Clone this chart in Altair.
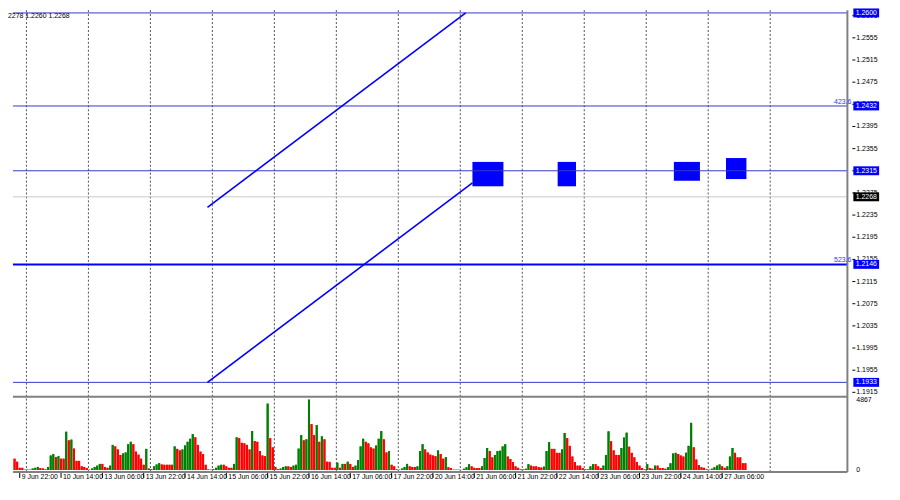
import altair as alt
import pandas as pd

# ---------------- data ----------------
# hourly closes, in pips above 1.2000 (2513 -> 1.2513)
closes_pips = [
    2513, 2515, 2508, 2504, 2492, 2496, 2491, 2494, 2491, 2496,
    2489, 2496, 2498, 2512, 2491, 2484, 2475, 2478, 2456, 2440,
    2386, 2369, 2345, 2327, 2313, 2310, 2317, 2310, 2313, 2315,
    2293, 2279, 2267, 2270, 2279, 2286, 2282, 2261, 2240, 2233,
    2213, 2202, 2209, 2167, 2192, 2171, 2150, 2178, 2174, 2162,
    2143, 2133, 2136, 2141, 2145, 2150, 2152, 2157, 2148, 2171,
    2178, 2181, 2171, 2157, 2110, 2098, 2075, 2067, 2063, 2053,
    2006, 2018, 1997, 1994, 1987, 1980, 1994, 1997, 2002, 2009,
    2023, 2032, 2023, 2006, 2009, 2001, 2032, 2058, 2084, 2089,
    2105, 2087, 2063, 2067, 2058, 2053, 2084, 2110, 2180, 2188,
    2174, 2180, 2171, 2162, 2167, 2150, 2157, 2145, 2148, 2136,
    2096, 2110, 2133, 2150, 2139, 2202, 2258, 2275, 2336, 2383,
    2397, 2371, 2362, 2353, 2357, 2350, 2353, 2345, 2324, 2313,
    2310, 2301, 2287, 2272, 2296, 2310, 2301, 2279, 2267, 2227,
    2223, 2188, 2195, 2202, 2214, 2209, 2216, 2214, 2219, 2223,
    2219, 2226, 2219, 2232, 2237, 2244, 2237, 2248, 2253, 2249,
    2258, 2249, 2261, 2267, 2237, 2249, 2258, 2249, 2240, 2253,
    2258, 2249, 2253, 2261, 2272, 2275, 2282, 2279, 2284, 2275,
    2267, 2272, 2289, 2306, 2296, 2286, 2267, 2275, 2267, 2272,
    2265, 2270, 2272, 2275, 2272, 2277, 2272, 2275, 2261, 2249,
    2258, 2240, 2244, 2237, 2230, 2226, 2209, 2232, 2258, 2261,
    2284, 2293, 2306, 2296, 2279, 2275, 2282, 2270, 2267, 2270,
    2265, 2267, 2261, 2265, 2244, 2249, 2261, 2265, 2258, 2206,
    2180, 2204, 2209, 2226, 2237, 2275, 2286, 2258, 2249, 2232,
    2226, 2249, 2261, 2258, 2263, 2258, 2265, 2249, 2267, 2272,
    2279, 2275, 2277, 2272, 2267, 2270, 2293, 2279, 2289, 2268,
    2282, 2272, 2275, 2261, 2267, 2282, 2279, 2286, 2275, 2282,
    2277, 2272, 2275, 2279, 2272, 2282, 2293, 2319, 2324, 2310,
    2293, 2279, 2275, 2268,
]
first_open_pips = 2510
default_wick = 4
upper_wick = {13: 8, 20: 18, 36: 14, 47: 22, 59: 17, 62: 25, 99: 14, 120: 6,
              135: 31, 163: 8, 164: 12, 183: 16, 212: 7, 236: 7, 262: 23,
              277: 5, 278: 12}
lower_wick = {46: 19, 51: 26, 75: 47, 85: 12, 95: 10, 98: 83, 110: 34, 114: 102,
              141: 12, 181: 21, 190: 16, 206: 50, 230: 9, 256: 26, 265: 18, 283: 7}

volumes = [
    780, 570, 150, 150, 20, 30, 20, 100, 150, 210,
    130, 100, 40, 210, 1000, 1100, 890, 950, 780, 780,
    2645, 2050, 2100, 1480, 630, 630, 250, 210, 130, 20,
    100, 210, 300, 420, 420, 210, 150, 300, 1735, 1630,
    1420, 1040, 1140, 1210, 1780, 1950, 1780, 1270, 1060, 780,
    360, 1460, 100, 60, 250, 380, 470, 380, 360, 360,
    360, 360, 1630, 1460, 1350, 1420, 1690, 1950, 2160, 2480,
    2260, 1735, 1270, 1100, 360, 40, 20, 60, 150, 300,
    360, 360, 250, 150, 150, 420, 2260, 2200, 1880, 1840,
    1735, 1420, 2690, 2000, 1950, 1310, 1000, 950, 4590, 2200,
    1560, 210, 60, 100, 210, 250, 250, 210, 300, 360,
    1480, 2410, 2050, 2120, 4867, 3170, 2410, 3110, 1950, 2330,
    2120, 570, 560, 150, 150, 510, 150, 420, 420, 570,
    420, 210, 300, 680, 1630, 2160, 1950, 1840, 1560, 1480,
    1690, 2160, 2690, 2120, 1210, 1310, 360, 250, 40, 20,
    100, 210, 420, 250, 210, 210, 250, 1310, 1780, 1420,
    1210, 1060, 1000, 950, 1350, 1100, 780, 890, 190, 130,
    20, 20, 20, 10, 85, 190, 400, 250, 150, 130,
    130, 250, 825, 1520, 1310, 870, 1040, 1310, 1330, 1630,
    1780, 930, 760, 550, 250, 150, 40, 40, 85, 400,
    300, 250, 250, 190, 170, 230, 1310, 1925, 1460, 1460,
    1185, 1185, 1420, 2560, 2200, 1670, 930, 550, 300, 300,
    130, 40, 40, 250, 400, 400, 250, 130, 300, 1040,
    2670, 1990, 1350, 1040, 1040, 1520, 2240, 2580, 1610, 1185,
    870, 550, 300, 130, 40, 400, 130, 85, 300, 300,
    130, 130, 85, 190, 465, 1140, 1185, 1100, 1000, 930,
    1185, 1670, 3260, 1565, 720, 340, 190, 150, 40, 20,
    85, 190, 300, 380, 250, 150, 250, 930, 1520, 1185,
    870, 870, 465, 465,
]

time_labels = ["9 Jun 22:00", "10 Jun 14:00", "13 Jun 06:00", "13 Jun 22:00",
               "14 Jun 14:00", "15 Jun 06:00", "15 Jun 22:00", "16 Jun 14:00",
               "17 Jun 06:00", "17 Jun 22:00", "20 Jun 14:00", "21 Jun 06:00",
               "21 Jun 22:00", "22 Jun 14:00", "23 Jun 06:00", "23 Jun 22:00",
               "24 Jun 14:00", "27 Jun 06:00"]
label_bars = [2, 18, 34, 50, 66, 82, 98, 114, 130, 146, 162, 178, 194, 210,
              226, 242, 258, 274]
grid_bars = [4.6, 28.6, 52.6, 76.6, 100.6, 124.6, 148.6, 172.6, 196.6, 220.6,
             244.6, 268.6, 292.6]
price_ticks = [1.1915, 1.1955, 1.1995, 1.2035, 1.2075, 1.2115, 1.2155, 1.2195,
               1.2235, 1.2275, 1.2315, 1.2355, 1.2395, 1.2435, 1.2475, 1.2515,
               1.2555, 1.2595]
level_thin = [1.2600, 1.2432, 1.2315, 1.1933]
level_thick = [1.2146]
level_boxes = [1.2600, 1.2432, 1.2315, 1.2146, 1.1933]
current_price = 1.2268
fib_texts = ["423.6", "523.6"]
fib_levels = [1.2432, 1.2146]
header_text = "2278 1.2260 1.2268"
channel_x1 = [74.7, 74.7]
channel_y1 = [1.2249, 1.1933]
channel_x2 = [174.7, 177.3]
channel_y2 = [1.2600, 1.2293]
box_x1 = [177.3, 210.3, 255.3, 275.5]
box_x2 = [189.3, 217.4, 265.4, 283.4]
box_top = [1.2331, 1.2331, 1.2331, 1.2338]
box_bottom = [1.2287, 1.2287, 1.2297, 1.2300]
vol_labels = [0, 4867]

# ---------------- layout constants ----------------
W = 852
H = 466
FONT = "Liberation Sans"
X_MIN, X_MAX = -0.62, 322.5
PX_PER_BAR = W / (X_MAX - X_MIN)
BODY_HALF = 1.0 / PX_PER_BAR          # half of a 2 px candle body, in bar units
P_TOP = 1.2605
P_PX = 5589.0                          # pixels per price unit
P_BOT = P_TOP - H / P_PX
SPLIT = P_TOP - 390 / P_PX
BOX_HALF = 4.5 / P_PX
V_PX = 4867 / 71.0                     # volume units per pixel
V_BOT = -2 * V_PX
V_TOP = V_BOT + H * V_PX


def vol_as_price(v):
    """Position of a volume value on the price scale (same pixel as the volume scale)."""
    px_from_top = H - (v - V_BOT) / V_PX
    return P_TOP - px_from_top / P_PX


# ---------------- one table for every mark ----------------
rows = []


def add(kind, cat, x=0.0, x2=0.0, y=0.0, y2=0.0, t=""):
    rows.append({"kind": kind, "cat": cat, "x": float(x), "x2": float(x2),
                 "y": float(y), "y2": float(y2), "t": t})


prev = first_open_pips
for i, c in enumerate(closes_pips):
    o = prev
    hi = max(o, c) + upper_wick.get(i, default_wick)
    lo = min(o, c) - lower_wick.get(i, default_wick)
    ud = "up" if c > o else "down"
    add("wick", ud, x=i, x2=i, y=1.2 + lo / 1e4, y2=1.2 + hi / 1e4)
    add("body", ud, x=i - BODY_HALF, x2=i + BODY_HALF, y=1.2 + o / 1e4, y2=1.2 + c / 1e4)
    vud = "vup" if i > 0 and volumes[i] > volumes[i - 1] else "vdown"
    add("vol", vud, x=i, x2=i, y=volumes[i], y2=0)
    add("volp", vud, x=i, x2=i, y=vol_as_price(volumes[i]), y2=vol_as_price(0))
    prev = c

for g in grid_bars:
    add("grid", "grid", x=g, x2=g, y=P_BOT, y2=P_TOP)
for p in level_thin:
    add("lvl", "lvl", x=X_MIN, x2=X_MAX, y=p, y2=p)
for p in level_thick:
    add("lvl2", "lvl2", x=X_MIN, x2=X_MAX, y=p, y2=p)
add("cur", "cur", x=X_MIN, x2=X_MAX, y=current_price, y2=current_price)
add("frame", "frame", x=X_MIN, x2=X_MAX, y=SPLIT, y2=SPLIT)
add("frame", "frame", x=X_MIN, x2=X_MAX, y=P_BOT, y2=P_BOT)
add("frame", "frame", x=X_MAX, x2=X_MAX, y=P_BOT, y2=P_TOP)
for a, b, c_, d in zip(channel_x1, channel_y1, channel_x2, channel_y2):
    add("chan", "chan", x=a, y=b, x2=c_, y2=d)
for a, b, c_, d in zip(box_x1, box_x2, box_top, box_bottom):
    add("box", "box", x=a, x2=b, y=c_, y2=d)
for p in level_boxes:
    add("lbox", "lbox", y=p + BOX_HALF, y2=p - BOX_HALF)
    add("lboxt", "wtext", y=p, t=f"{p:.4f}")
add("lbox", "cbox", y=current_price + BOX_HALF, y2=current_price - BOX_HALF)
add("lboxt", "wtext", y=current_price, t=f"{current_price:.4f}")
for p in price_ticks:
    add("ptick", "btext", y=p, t=f"{p:.4f}")
for b, t in zip(label_bars, time_labels):
    add("tlab", "btext", x=b, t=t)
for v in vol_labels:
    add("vlab", "btext", y=v, t=str(v))
for p, t in zip(fib_levels, fib_texts):
    add("fib", "fib", y=p, t=t)
add("head", "btext", t=header_text)

tbl = pd.DataFrame(rows)

cat_domain = ["up", "down", "vup", "vdown", "grid", "lvl", "lvl2", "cur", "frame",
              "chan", "box", "lbox", "cbox", "wtext", "btext", "fib"]
cat_range = ["#9a9a9a", "#000000", "#008000", "#ff0000", "#505050", "#3838c8",
             "#0000ff", "#c8c8c8", "#808080", "#0000ff", "#0000ff", "#0000ff",
             "#000000", "#ffffff", "#000000", "#3030ff"]

xs = alt.Scale(domain=[X_MIN, X_MAX], nice=False, zero=False)
ps = alt.Scale(domain=[P_BOT, P_TOP], nice=False, zero=False)
vs = alt.Scale(domain=[V_BOT, V_TOP], nice=False, zero=False)
cs = alt.Scale(domain=cat_domain, range=cat_range)

XE = alt.X("x:Q", scale=xs, axis=None)
PE = alt.Y("y:Q", scale=ps, axis=None)
VE = alt.Y("y:Q", scale=vs, axis=None)
CE = alt.Color("cat:N", scale=cs, legend=None)


def base(*kinds):
    return alt.Chart(tbl).transform_filter(
        alt.FieldOneOfPredicate(field="kind", oneOf=list(kinds)))


grid = base("grid").mark_rule(strokeDash=[2, 2], strokeWidth=1).encode(
    x=XE, x2="x2:Q", y=PE, y2="y2:Q", color=CE)
cur = base("cur").mark_rule(strokeWidth=1).encode(x=XE, x2="x2:Q", y=PE, y2="y2:Q", color=CE)
boxes = base("box").mark_rect().encode(x=XE, x2="x2:Q", y=PE, y2="y2:Q", color=CE)
lvl = base("lvl").mark_rule(strokeWidth=1).encode(x=XE, x2="x2:Q", y=PE, y2="y2:Q", color=CE)
lvl2 = base("lvl2").mark_rule(strokeWidth=2).encode(x=XE, x2="x2:Q", y=PE, y2="y2:Q", color=CE)
chan = base("chan").mark_rule(strokeWidth=1.6).encode(x=XE, x2="x2:Q", y=PE, y2="y2:Q", color=CE)
# candles: wick rules and 2 px bodies
wick = base("wick").mark_rule(strokeWidth=1).encode(x=XE, x2="x2:Q", y=PE, y2="y2:Q", color=CE)
body = base("body").mark_rect().encode(x=XE, x2="x2:Q", y=PE, y2="y2:Q", color=CE)
wick_b = base("wick").mark_rule(strokeWidth=1).encode(x=XE, y=PE, y2="y2:Q", color=CE)
body_b = base("body").transform_calculate(xm="(datum.x + datum.x2) / 2").mark_bar(size=2).encode(
    x=alt.X("xm:Q", scale=xs, axis=None), y=PE, y2="y2:Q", color=CE)
# volume histogram
vol = base("vol").mark_rule(strokeWidth=2).encode(x=XE, x2="x2:Q", y=VE, y2="y2:Q", color=CE)
volp = base("volp").mark_rule(strokeWidth=2).encode(x=XE, y=PE, y2="y2:Q", color=CE)
frame = base("frame").mark_rule(strokeWidth=2).encode(x=XE, x2="x2:Q", y=PE, y2="y2:Q", color=CE)
fib = base("fib").mark_text(fontSize=7, font=FONT, align="right", baseline="bottom", dy=-1).encode(
    x=alt.value(W - 1), y=PE, text="t:N", color=CE)
head = base("head").mark_text(fontSize=7, font=FONT, align="left", baseline="top").encode(
    x=alt.value(0), y=alt.value(2), text="t:N", color=CE)
lbox = base("lbox").mark_rect().encode(
    x=alt.value(W + 1), x2=alt.value(W + 27), y=PE, y2="y2:Q", color=CE)
lboxt = base("lboxt").mark_text(fontSize=7, font=FONT, align="center", baseline="middle").encode(
    x=alt.value(W + 14), y=PE, text="t:N", color=CE)
ptick_r = base("ptick").mark_rule(strokeWidth=1).encode(
    x=alt.value(W), x2=alt.value(W + 3), y=PE, color=CE)
ptick_t = base("ptick").mark_text(fontSize=7, font=FONT, align="left", baseline="middle").encode(
    x=alt.value(W + 4), y=PE, text="t:N", color=CE)
tlab_r = base("tlab").mark_rule(strokeWidth=1).encode(
    x=XE, y=alt.value(H + 1), y2=alt.value(H + 6), color=CE)
tlab_t = base("tlab").mark_text(fontSize=7, font=FONT, align="left", baseline="top", dx=2).encode(
    x=XE, y=alt.value(H + 1), text="t:N", color=CE)
vlab = base("vlab").mark_text(fontSize=7, font=FONT, align="left", baseline="middle").encode(
    x=alt.value(W + 4), y=VE, text="t:N", color=CE)

chart = alt.layer(
    grid, cur, boxes, lvl, lvl2, chan, wick_b, body_b, wick, body, vol, volp, frame,
    fib, head, ptick_r, ptick_t, lbox, lboxt, tlab_r, tlab_t, vlab,
).resolve_scale(y="independent").properties(
    width=W, height=H,
    autosize=alt.AutoSizeParams(type="none"),
    padding={"left": 0, "top": 0, "right": 40, "bottom": 14},
).configure_view(stroke=None)

chart.save("out.html", embed_options={"renderer": "svg", "actions": False})
